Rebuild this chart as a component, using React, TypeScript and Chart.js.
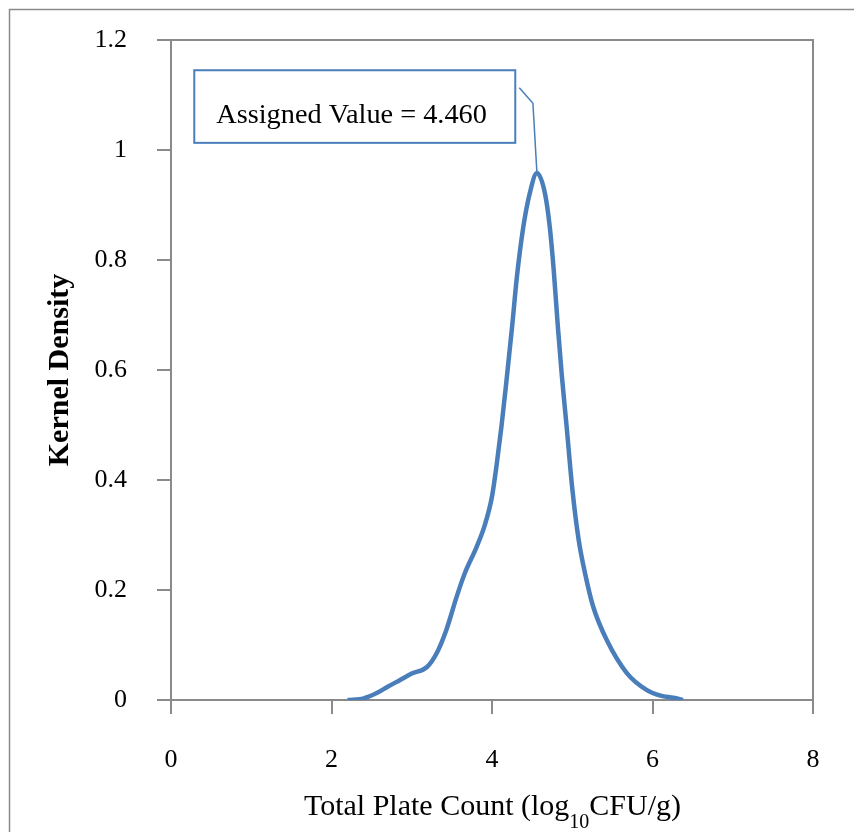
import { useEffect, useRef } from 'react';
import { Chart, registerables } from 'chart.js';

Chart.register(...registerables);

// Kernel density curve
const logCfuValues = [
  2.2, 2.4, 2.57, 2.7, 2.85, 3.0, 3.19, 3.31, 3.43, 3.56, 3.66, 3.81, 3.91, 4.0, 4.06, 4.12, 4.18,
  4.25, 4.31, 4.39, 4.47, 4.56, 4.66, 4.72, 4.77, 4.82, 4.87, 4.93, 5.0, 5.08, 5.16, 5.26, 5.43, 5.68,
  5.93, 6.1, 6.26, 6.38,
];
const densityValues = [
  0, 0.003, 0.013, 0.024, 0.036, 0.048, 0.06, 0.085, 0.127, 0.188, 0.23, 0.279, 0.318, 0.37, 0.43, 0.5,
  0.58, 0.678, 0.769, 0.86, 0.921, 0.958, 0.921, 0.86, 0.78, 0.68, 0.59, 0.497, 0.385, 0.291, 0.23,
  0.17, 0.109, 0.049, 0.018, 0.008, 0.004, 0,
];

const xTickValues = [0, 2, 4, 6, 8];
const yTickLabels = ['0', '0.2', '0.4', '0.6', '0.8', '1', '1.2'];

const xTitleParts = ['Total Plate Count (log', '10', 'CFU/g)'];
const yTitle = 'Kernel Density';
const annotationText = 'Assigned Value = 4.460';
// annotation box corners and leader bend points, in data units
const annotationBoxX = [0.29, 4.29];
const annotationBoxY = [1.145, 1.013];
const leaderX = [4.34, 4.51, 4.56];
const leaderY = [1.113, 1.085, 0.958];

const SERIF = "'Liberation Serif', 'Times New Roman', serif";
const AXIS_GRAY = '#8a8a8a';
const LINE_BLUE = '#4a7ebb';

const decorPlugin = {
  id: 'decor',
  afterDraw(chart: any) {
    const ctx = chart.ctx as CanvasRenderingContext2D;
    const { chartArea } = chart;
    const xs = chart.scales.x;
    const ys = chart.scales.y;
    ctx.save();
    // outer frame
    ctx.strokeStyle = AXIS_GRAY;
    ctx.lineWidth = 1.5;
    ctx.beginPath();
    ctx.moveTo(9.5, chart.height);
    ctx.lineTo(9.5, 9.5);
    ctx.lineTo(chart.width, 9.5);
    ctx.stroke();
    // top & right of plot area
    ctx.lineWidth = 2;
    ctx.beginPath();
    ctx.moveTo(chartArea.left, chartArea.top);
    ctx.lineTo(chartArea.right, chartArea.top);
    ctx.lineTo(chartArea.right, chartArea.bottom);
    ctx.stroke();

    // annotation box
    const bx0 = xs.getPixelForValue(annotationBoxX[0]);
    const bx1 = xs.getPixelForValue(annotationBoxX[1]);
    const by0 = ys.getPixelForValue(annotationBoxY[0]);
    const by1 = ys.getPixelForValue(annotationBoxY[1]);
    ctx.fillStyle = '#ffffff';
    ctx.fillRect(bx0, by0, bx1 - bx0, by1 - by0);
    ctx.strokeStyle = LINE_BLUE;
    ctx.lineWidth = 2;
    ctx.strokeRect(bx0, by0, bx1 - bx0, by1 - by0);
    ctx.fillStyle = '#000';
    ctx.font = `28.3px ${SERIF}`;
    ctx.textAlign = 'left';
    ctx.textBaseline = 'alphabetic';
    ctx.fillText(annotationText, bx0 + 22, by0 + 53);

    // leader line
    ctx.lineWidth = 1.5;
    ctx.beginPath();
    leaderX.forEach((v, i) => {
      const px = xs.getPixelForValue(v);
      const py = ys.getPixelForValue(leaderY[i]);
      if (i === 0) ctx.moveTo(px, py);
      else ctx.lineTo(px, py);
    });
    ctx.stroke();

    // x title with subscript
    const mainFont = `30px ${SERIF}`;
    const subFont = `20px ${SERIF}`;
    ctx.font = mainFont;
    const w0 = ctx.measureText(xTitleParts[0]).width;
    const w2 = ctx.measureText(xTitleParts[2]).width;
    ctx.font = subFont;
    const w1 = ctx.measureText(xTitleParts[1]).width;
    const total = w0 + w1 + w2;
    const cx = 492.5;
    let x = cx - total / 2;
    const base = 815;
    ctx.fillStyle = '#000';
    ctx.font = mainFont;
    ctx.fillText(xTitleParts[0], x, base);
    x += w0;
    ctx.font = subFont;
    ctx.fillText(xTitleParts[1], x, base + 13);
    x += w1;
    ctx.font = mainFont;
    ctx.fillText(xTitleParts[2], x, base);

    // y title
    ctx.translate(60, 370);
    ctx.rotate(-Math.PI / 2);
    ctx.font = `bold 30px ${SERIF}`;
    ctx.textAlign = 'center';
    ctx.textBaseline = 'middle';
    ctx.fillText(yTitle, 0, 0);
    ctx.restore();
  },
};

export default function App() {
  const ref = useRef<HTMLCanvasElement | null>(null);
  useEffect(() => {
    if (!ref.current) return;
    const chart = new Chart(ref.current, {
      type: 'scatter',
      data: {
        datasets: [
          {
            data: logCfuValues.map((x, i) => ({ x, y: densityValues[i] })),
            showLine: true,
            borderColor: LINE_BLUE,
            borderWidth: 4.5,
            pointRadius: 0,
            cubicInterpolationMode: 'monotone',
            fill: false,
          },
        ],
      },
      options: {
        responsive: false,
        animation: false,
        devicePixelRatio: 1,
        layout: { padding: { left: 0, top: 40, right: 41, bottom: 0 } },
        plugins: { legend: { display: false }, tooltip: { enabled: false } },
        scales: {
          x: {
            type: 'linear',
            min: 0,
            max: 8,
            afterBuildTicks: (scale: any) => {
              scale.ticks = xTickValues.map((v) => ({ value: v }));
            },
            afterFit: (scale: any) => {
              scale.height = 132;
              scale.paddingLeft = 0;
              scale.paddingRight = 0;
            },
            ticks: {
              color: '#000',
              font: { family: SERIF, size: 26 },
              padding: 31,
              maxRotation: 0,
              callback: (v: any) => String(v),
            },
            grid: { drawOnChartArea: false, drawTicks: true, tickLength: 14, color: AXIS_GRAY, lineWidth: 2 },
            border: { display: true, color: AXIS_GRAY, width: 2 },
          },
          y: {
            type: 'linear',
            min: 0,
            max: 1.2,
            ticks: {
              stepSize: 0.2,
              color: '#000',
              font: { family: SERIF, size: 26 },
              padding: 30,
              callback: (_v: any, i: number) => yTickLabels[i],
            },
            afterFit: (scale: any) => {
              scale.width = 171;
              scale.paddingTop = 0;
              scale.paddingBottom = 0;
            },
            grid: { drawOnChartArea: false, drawTicks: true, tickLength: 14, color: AXIS_GRAY, lineWidth: 2 },
            border: { display: true, color: AXIS_GRAY, width: 2 },
          },
        },
      },
      plugins: [decorPlugin],
    } as any);
    return () => chart.destroy();
  }, []);
  return (
    <div style={{ position: 'absolute', left: 0, top: 0, width: 854, height: 832, background: '#fff' }}>
      <canvas ref={ref} width={854} height={832} />
    </div>
  );
}
